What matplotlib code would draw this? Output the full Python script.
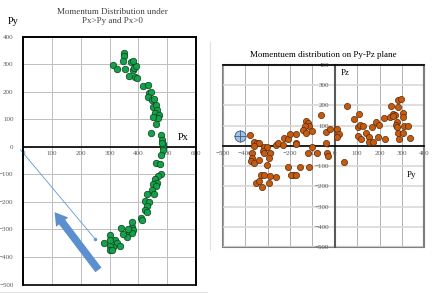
import matplotlib.pyplot as plt
from matplotlib.patches import Rectangle, FancyArrowPatch
from matplotlib.lines import Line2D

plt.rcParams['font.family'] = ['Liberation Serif', 'DejaVu Serif']

# left chart: Px / Py
px = [313, 327, 350, 350, 348, 353, 373, 367, 380, 386, 392, 388, 396, 380,
      415, 435, 438, 443, 432, 446, 454, 452, 461, 464, 459, 473, 468, 450,
      460, 443, 477, 483, 484, 484, 483, 484, 479, 460, 475, 478, 469, 458,
      464, 452, 460, 446, 454, 431, 423, 437, 429, 423, 429, 408, 411, 377,
      382, 368, 377, 359, 348, 338, 319, 327, 336, 313, 301, 301, 307, 280,
      301, 301, 377, 365]
py = [299, 283, 341, 329, 311, 283, 309, 259, 278, 287, 293, 256, 250, 311,
      222, 226, 195, 198, 183, 171, 173, 146, 152, 134, 124, 116, 104, 110,
      85, 51, 43, 24, 12, 0, 16, -11, -29, -57, -62, -98, -106, -118,
      -132, -135, -143, -157, -171, -171, -195, -199, -215, -229, -235, -260, -266, -292,
      -302, -308, -314, -326, -316, -296, -338, -350, -360, -363, -360, -373, -375, -350,
      -320, -338, -272, -300]

# right chart: Py / Pz
py2 = [-376, -359, -347, -336, -362, -317, -302, -321, -317, -287, -262, -254,
       -225, -232, -210, -198, -371, -371, -374, -362, -336, -292, -302, -329,
       -317, -287, -262, -351, -336, -326, -292, -210, -188,
       -59, 55, -129, -119, -115, -134, -141, -129, -100, -174, -40, -19, 8,
       19, 10, -174, -174, -100, -40, -119, -79, -34, -30, 40, -156, -115,
       -193, -171,
       109, 85, 104, 115, 126, 138, 104, 119, 153, 168, 183, 198, 193, 153,
       171, 223, 219, 249, 253, 258, 268, 283, 283, 298, 305, 305, 278, 275,
       278, 308, 328, 283, 305, 287, 338, 261]
pz = [54, 21, 13, 16, 0, -3, -7, -23, -36, -36, 5, 13,
      38, 5, 33, 59, -36, -61, -77, -86, -72, -61, -94, -143,
      -143, -151, -156, -181, -176, -201, -184, -105, -143,
      153, 198, 125, 115, 99, 99, 79, 63, 76, 59, 71, 82, 82,
      58, 43, 16, 8, -3, 13, -33, -36, -33, -49, -82, -105, -105,
      -143, -143,
      158, 132, 95, 104, 99, 66, 49, 33, 46, 95, 120, 104, 46, 21,
      21, 33, 137, 142, 198, 158, 153, 194, 227, 231, 164, 145, 120, 104,
      92, 99, 99, 63, 63, 33, 38, 148]

ticks_x1 = [0, 100, 200, 300, 400, 500, 600]
ticks_y1 = [-500, -400, -300, -200, -100, 0, 100, 200, 300, 400]
ticks_2 = [-500, -400, -300, -200, -100, 0, 100, 200, 300, 400]

# annotations on the left chart (data coords)
thin_line_x = [-10, 250]
thin_line_y = [-10, -335]
arrow_tail = (267, -455)
arrow_head = (103, -229)
ref_point = (-421, 49)

fig = plt.figure(figsize=(4.36, 2.93), dpi=100)

# ---------- left chart ----------
ax1 = fig.add_axes([0.0534, 0.029, 0.396, 0.845])
ax1.set_xlim(0, 600)
ax1.set_ylim(-500, 400)
ax1.set_xticks(ticks_x1)
ax1.set_yticks(ticks_y1)
ax1.grid(True, color='#bfbfbf', linewidth=0.7)
ax1.set_axisbelow(True)
for s in ['top', 'right', 'left']:
    ax1.spines[s].set_color('black')
    ax1.spines[s].set_linewidth(1.2)
ax1.spines['bottom'].set_position(('data', 0))
ax1.spines['bottom'].set_linewidth(1.2)
ax1.add_patch(Rectangle((0, 0), 1, 1, transform=ax1.transAxes, fill=False,
                        edgecolor='black', linewidth=1.2, clip_on=False, zorder=5))
ax1.tick_params(length=0, labelsize=5, colors='#595959', pad=7)
ax1.tick_params(axis='x', pad=3)

ax1.plot(thin_line_x, thin_line_y, color='#5b9bd5', linewidth=0.6,
         marker='o', markersize=1.5, markevery=[1], clip_on=False, zorder=3)
ax1.add_patch(FancyArrowPatch(arrow_tail, arrow_head, mutation_scale=1,
                              arrowstyle='simple,head_length=9,head_width=11,tail_width=5.5',
                              color='#5b8fd0', linewidth=0, zorder=3))
ax1.scatter(px, py, s=22, color='#13a24a', edgecolor='#0c3d1c',
            linewidth=0.5, zorder=4, clip_on=False)
ax1.text(554, 36, 'Px', fontsize=7.5, ha='center', va='center')

fig.text(0.030, 0.925, 'Py', fontsize=7.5, ha='center', va='center')
fig.text(0.258, 0.945, 'Momentum Distribution under\nPx>Py and Px>0',
         fontsize=6.5, ha='center', va='center', color='#404040', linespacing=1.2)

# ---------- right chart ----------
ax2 = fig.add_axes([0.5108, 0.157, 0.4624, 0.621])
ax2.set_xlim(-500, 400)
ax2.set_ylim(-500, 400)
ax2.set_xticks(ticks_2)
ax2.set_yticks(ticks_2)
ax2.xaxis.grid(True, color='#a6a6a6', linewidth=0.6)
ax2.yaxis.grid(True, color='#d9d9d9', linewidth=1.2)
ax2.set_axisbelow(True)
ax2.spines['left'].set_position(('data', 0))
ax2.spines['bottom'].set_position(('data', 0))
ax2.spines['left'].set_color('#595959')
ax2.spines['bottom'].set_color('black')
ax2.spines['left'].set_linewidth(1.5)
ax2.spines['bottom'].set_linewidth(1.2)
ax2.spines['top'].set_color('black')
ax2.spines['right'].set_color('#7f7f7f')
ax2.spines['right'].set_linewidth(1.5)
ax2.add_patch(Rectangle((0, 0), 1, 1, transform=ax2.transAxes, fill=False,
                        edgecolor='#7f7f7f', linewidth=1.5, clip_on=False, zorder=0.5))
ax2.spines['top'].set_linewidth(1.2)
ax2.tick_params(length=0, labelsize=5, colors='#595959')
ax2.tick_params(axis='y', pad=4)
ax2.tick_params(axis='x', pad=4)

ax2.scatter(py2, pz, s=20, color='#c55a11', edgecolor='#5a2a08',
            linewidth=0.5, zorder=4)
ax2.plot(*ref_point, marker='o', markersize=8, markerfacecolor='#9dc3e6',
         markeredgecolor='#41597a', markeredgewidth=0.6, zorder=5)
ax2.plot(*ref_point, marker='+', markersize=8, color='#41597a',
         markeredgewidth=0.6, zorder=6)
ax2.text(45, 360, 'Pz', fontsize=6.5, ha='center', va='center')
ax2.text(344, -143, 'Py', fontsize=6.5, ha='center', va='center')
ax2.set_title('Momentuem distribution on Py-Pz plane', fontsize=6.5, pad=6)

# light outer frame lines of the left chart
fig.add_artist(Line2D([210 / 436, 210 / 436], [1 - 42 / 293, 1 - 250 / 293],
                      color='#e0e0e0', linewidth=0.8))
fig.add_artist(Line2D([0, 207 / 436], [1 - 292 / 293, 1 - 292 / 293],
                      color='#e0e0e0', linewidth=0.8))

fig.savefig('out.png', dpi=100, facecolor='white')
